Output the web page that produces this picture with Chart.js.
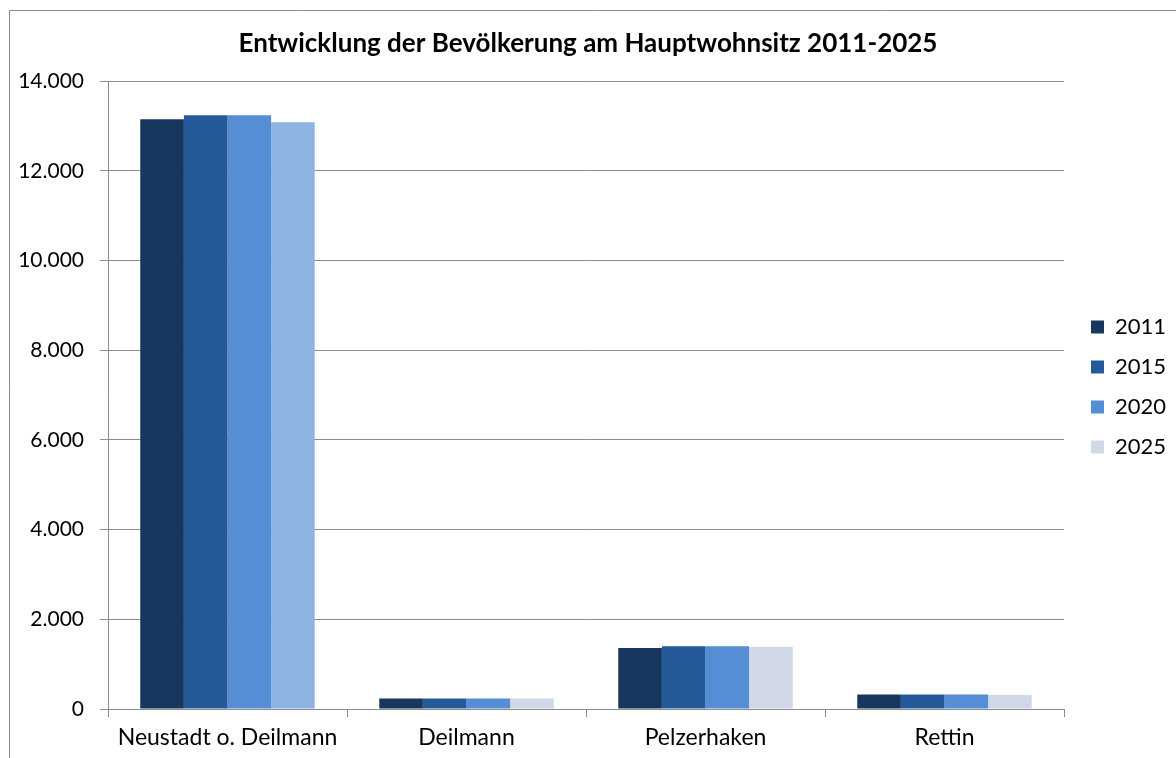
<!DOCTYPE html>
<html lang="de">
<head>
<meta charset="utf-8">
<title>Entwicklung der Bevölkerung am Hauptwohnsitz 2011-2025</title>
<script src="https://cdn.jsdelivr.net/npm/chart.js@4.4.1/dist/chart.umd.min.js"></script>
<style>
  html, body { margin: 0; padding: 0; background: #fff; }
  #wrap { position: relative; width: 1176px; height: 758px; }
</style>
</head>
<body>
<div id="wrap"><canvas id="chart" width="1176" height="758"></canvas></div>
<script>
const orte = ['Neustadt o. Deilmann', 'Deilmann', 'Pelzerhaken', 'Rettin'];
const jahre = ['2011', '2015', '2020', '2025'];

const werte2011 = [13150, 235, 1360, 325];
const werte2015 = [13240, 235, 1400, 325];
const werte2020 = [13240, 235, 1400, 325];
const werte2025 = [13085, 235, 1380, 312];

const yMax = 14000;
const yStep = 2000;

const farben = ['#17375E', '#255A9A', '#558ED5', '#D0D8E8'];
// first bar of 2025 uses a stronger tint
const farben2025 = ['#8EB4E3', '#D0D8E8', '#D0D8E8', '#D0D8E8'];

const schrift = "Lato, 'Open Sans', sans-serif";
const linie = '#8C8C8C';

// thin frame along the top and left edge
const rahmen = {
    id: 'rahmen',
    afterDraw(chart) {
        const c = chart.ctx;
        c.save();
        c.strokeStyle = linie;
        c.lineWidth = 1;
        c.beginPath();
        c.moveTo(9.5, chart.height);
        c.lineTo(9.5, 10.5);
        c.lineTo(chart.width, 10.5);
        c.stroke();
        c.restore();
    }
};

// legend column: fixed width, entries nudged right/down
const legendeBreite = 112;
const legendeVersatz = { x: 9, y: 8 };
const legendeLayout = {
    id: 'legendeLayout',
    beforeLayout(chart) {
        const lg = chart.legend;
        if (lg && !lg._fest) {
            const fit = lg.fit;
            lg.fit = function () {
                fit.call(this);
                this.width = legendeBreite;
            };
            lg._fest = true;
        }
    },
    afterLayout(chart) {
        const lg = chart.legend;
        if (!lg) return;
        lg.left += legendeVersatz.x;
        lg.top += legendeVersatz.y;
        lg.bottom += legendeVersatz.y;
    }
};

const ctx = document.getElementById('chart');

new Chart(ctx, {
    type: 'bar',
    data: {
        labels: orte,
        datasets: [
            { label: jahre[0], data: werte2011, backgroundColor: farben[0] },
            { label: jahre[1], data: werte2015, backgroundColor: farben[1] },
            { label: jahre[2], data: werte2020, backgroundColor: farben[2] },
            { label: jahre[3], data: werte2025, backgroundColor: farben2025 }
        ]
    },
    options: {
        responsive: false,
        animation: false,
        barPercentage: 1,
        categoryPercentage: 0.73,
        layout: { padding: 0 },
        plugins: {
            title: {
                display: true,
                text: 'Entwicklung der Bevölkerung am Hauptwohnsitz 2011-2025',
                color: '#000',
                font: { family: schrift, size: 26, weight: 'bold' },
                padding: { top: 28, bottom: 22 }
            },
            legend: {
                position: 'right',
                labels: {
                    color: '#000',
                    boxWidth: 13,
                    boxHeight: 13,
                    padding: 18,
                    font: { family: schrift, size: 22 },
                    generateLabels: function (chart) {
                        return chart.data.datasets.map((ds, i) => ({
                            text: ds.label,
                            fillStyle: farben[i],
                            strokeStyle: farben[i],
                            lineWidth: 0,
                            fontColor: '#000',
                            datasetIndex: i
                        }));
                    }
                }
            },
            tooltip: { enabled: false }
        },
        scales: {
            x: {
                grid: {
                    drawOnChartArea: false,
                    drawTicks: true,
                    tickLength: 8,
                    color: linie
                },
                border: { color: linie },
                ticks: {
                    color: '#000',
                    padding: 7,
                    font: { family: schrift, size: 23 }
                },
                afterFit: function (scale) { scale.height = 49; }
            },
            y: {
                min: 0,
                max: yMax,
                grid: { color: linie, tickLength: 8 },
                border: { color: linie },
                ticks: {
                    stepSize: yStep,
                    color: '#000',
                    padding: 16,
                    font: { family: schrift, size: 21 },
                    callback: v => v.toLocaleString('de-DE')
                },
                afterFit: function (scale) { scale.width = 108; }
            }
        }
    },
    plugins: [rahmen, legendeLayout]
});
</script>
</body>
</html>
